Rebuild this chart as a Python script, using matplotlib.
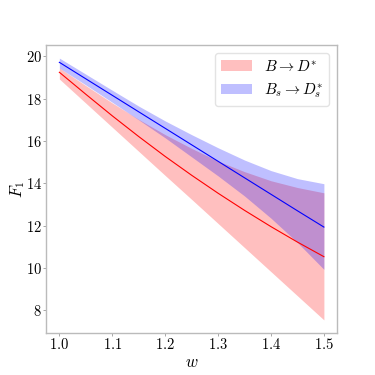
import numpy as np
import matplotlib
matplotlib.use('Agg')
import matplotlib.pyplot as plt

plt.rcParams['font.family'] = 'serif'
plt.rcParams['font.serif'] = ['cmr10', 'DejaVu Serif']
plt.rcParams['mathtext.fontset'] = 'cm'
plt.rcParams['axes.formatter.use_mathtext'] = True
plt.rcParams['axes.unicode_minus'] = False

w = [1.00, 1.05, 1.10, 1.15, 1.20, 1.25, 1.30, 1.35, 1.40, 1.45, 1.50]

# B -> D*
b_center = [19.25, 18.21, 17.19, 16.21, 15.27, 14.38, 13.53, 12.72, 11.95, 11.22, 10.53]
b_upper = [19.45, 18.62, 17.80, 17.02, 16.30, 15.65, 15.05, 14.55, 14.12, 13.80, 13.55]
b_lower = [18.93, 17.79, 16.65, 15.51, 14.37, 13.24, 12.10, 10.96, 9.82, 8.68, 7.54]

# Bs -> Ds*
bs_center = [19.72, 18.94, 18.16, 17.38, 16.60, 15.82, 15.04, 14.26, 13.48, 12.70, 11.93]
bs_upper = [19.92, 19.16, 18.40, 17.65, 16.95, 16.30, 15.68, 15.10, 14.60, 14.22, 13.98]
bs_lower = [19.45, 18.65, 17.83, 17.00, 16.15, 15.25, 14.35, 13.40, 12.35, 11.20, 9.93]

fig = plt.figure(figsize=(3.75, 3.75), dpi=100)
ax = fig.add_axes([0.123, 0.112, 0.776, 0.768])

ax.fill_between(w, b_lower, b_upper, color='red', alpha=0.25, linewidth=0,
                label=r'$B\to D^{*}$')
ax.fill_between(w, bs_lower, bs_upper, color='blue', alpha=0.25, linewidth=0,
                label=r'$B_s\to D_s^{*}$')
ax.plot(w, b_center, color='red', lw=0.8)
ax.plot(w, bs_center, color='blue', lw=0.8)

ax.set_xlabel(r'$w$', fontsize=12, labelpad=2)
ax.set_ylabel(r'$F_1$', fontsize=12)
ax.yaxis.set_label_coords(-0.065, 0.5)
ax.set_xticks([1.0, 1.1, 1.2, 1.3, 1.4, 1.5])
ax.set_yticks([8, 10, 12, 14, 16, 18, 20])
ax.tick_params(labelsize=10.5, length=2, width=0.6, color='#999999', pad=1)
for s in ax.spines.values():
    s.set_color('#bbbbbb')
    s.set_linewidth(1.0)

leg = ax.legend(loc='upper right', fontsize=11, edgecolor='#dddddd')

plt.savefig('out.png', dpi=100)
